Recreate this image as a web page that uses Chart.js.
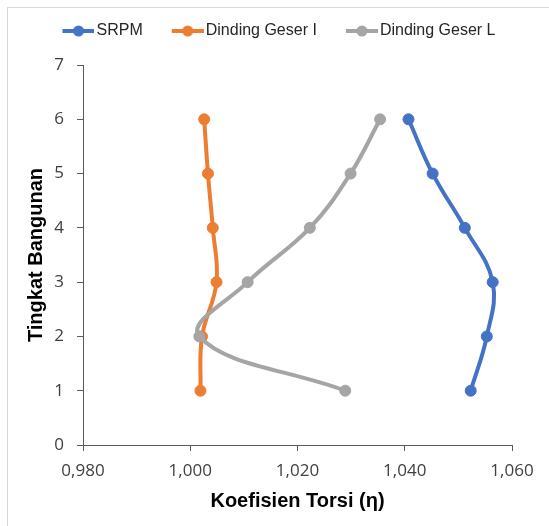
<!DOCTYPE html>
<html>
<head>
<meta charset="utf-8">
<script src="https://cdn.jsdelivr.net/npm/chart.js@4/dist/chart.umd.min.js"></script>
<style>
  html, body { margin: 0; padding: 0; background: #ffffff; }
  #wrap { width: 549px; height: 526px; }
</style>
</head>
<body>
<div id="wrap"><canvas id="c" width="549" height="526"></canvas></div>
<script>
// ---- data ----
const floors = [1, 2, 3, 4, 5, 6];
const srpm = [1.0523, 1.0553, 1.0564, 1.0512, 1.0452, 1.0407];
const dindingGeserI = [1.0019, 1.0022, 1.0049, 1.0042, 1.0033, 1.0026];
const dindingGeserL = [1.0289, 1.0017, 1.0107, 1.0223, 1.0299, 1.0354];
const seriesNames = ['SRPM', 'Dinding Geser I', 'Dinding Geser L'];
const xTickValues = [0.98, 1.00, 1.02, 1.04, 1.06];
const yTickValues = [0, 1, 2, 3, 4, 5, 6, 7];
const xTitle = 'Koefisien Torsi (η)';
const yTitle = 'Tingkat Bangunan';

// ---- styling ----
const colors = ['#4472C4', '#ED7D31', '#A5A5A5'];
const axisColor = '#595959';
const tickColor = '#404040';

function makeLegendIcon(color) {
  const W = 45, C = W + 12;
  const cv = document.createElement('canvas');
  cv.width = C; cv.height = 14;
  const g = cv.getContext('2d');
  g.strokeStyle = color; g.lineWidth = 4; g.lineCap = 'butt';
  g.beginPath(); g.moveTo(C - 32, 7); g.lineTo(C, 7); g.stroke();
  g.fillStyle = color;
  g.beginPath(); g.arc(C - 16, 7, 5.5, 0, Math.PI * 2); g.fill();
  return cv;
}
const icons = colors.map(makeLegendIcon);

function toPoints(xs) { return floors.map((f, i) => ({ x: xs[i], y: f })); }

const seriesValues = [srpm, dindingGeserI, dindingGeserL];
const datasets = seriesValues.map((vals, i) => ({
  label: seriesNames[i],
  data: toPoints(vals),
  showLine: true,
  borderColor: colors[i],
  backgroundColor: colors[i],
  borderWidth: 4,
  tension: 0.4,
  borderJoinStyle: 'round',
  pointRadius: 5.5,
  pointBorderWidth: 1,
  pointBorderColor: colors[i],
  pointBackgroundColor: colors[i],
  pointHoverRadius: 5.5,
  order: 2 - i
}));

const framePlugin = {
  id: 'frame',
  beforeDraw(chart) {
    const ctx = chart.ctx;
    ctx.save();
    ctx.fillStyle = '#ffffff';
    ctx.fillRect(0, 0, chart.width, chart.height);
    ctx.strokeStyle = '#d9d9d9';
    ctx.lineWidth = 1;
    ctx.strokeRect(7.5, 7.5, 700, 700);
    ctx.restore();
  }
};

new Chart(document.getElementById('c'), {
  type: 'scatter',
  data: { datasets },
  plugins: [framePlugin],
  options: {
    responsive: false,
    animation: false,
    events: [],
    layout: { padding: { top: 13, right: 10, bottom: 10, left: 0 } },
    plugins: {
      tooltip: { enabled: false },
      subtitle: {
        display: true,
        text: ' ',
        position: 'top',
        weight: 500,
        font: { size: 10, lineHeight: 1 },
        padding: { top: 3, bottom: 3 }
      },
      legend: {
        display: true,
        position: 'top',
        align: 'center',
        labels: {
          usePointStyle: true,
          pointStyleWidth: 45,
          padding: 10,
          color: '#262626',
          font: { family: '"Liberation Sans", Arial, sans-serif', size: 16 },
          sort: (a, b) => a.datasetIndex - b.datasetIndex,
          generateLabels(chart) {
            const items = Chart.defaults.plugins.legend.labels.generateLabels(chart);
            items.forEach(it => { it.pointStyle = icons[it.datasetIndex]; });
            return items;
          }
        }
      }
    },
    scales: {
      x: {
        type: 'linear',
        position: 'bottom',
        min: xTickValues[0],
        max: xTickValues[xTickValues.length - 1],
        afterBuildTicks(scale) { scale.ticks = xTickValues.map(v => ({ value: v })); },
        afterFit(scale) { scale.height = 71; scale.paddingRight = 37; scale.paddingLeft = 0; },
        ticks: {
          color: tickColor,
          padding: 10,
          maxRotation: 0,
          font: { family: '"Open Sans", sans-serif', size: 17 },
          callback: (v) => Number(v).toFixed(3).replace('.', ',')
        },
        grid: { drawOnChartArea: false, drawTicks: true, tickLength: 6, color: axisColor },
        border: { display: true, color: axisColor, width: 1 },
        title: {
          display: true,
          text: xTitle,
          color: '#000000',
          padding: { top: 0, bottom: 3 },
          font: { family: '"Liberation Sans", Arial, sans-serif', size: 20, weight: 'bold' }
        }
      },
      y: {
        type: 'linear',
        position: 'left',
        min: yTickValues[0],
        max: yTickValues[yTickValues.length - 1],
        afterBuildTicks(scale) { scale.ticks = yTickValues.map(v => ({ value: v })); },
        afterFit(scale) { scale.width = 83; },
        ticks: {
          color: tickColor,
          padding: 13,
          font: { family: '"Open Sans", sans-serif', size: 17 },
          callback: (v) => String(v)
        },
        grid: { drawOnChartArea: false, drawTicks: true, tickLength: 6, color: axisColor },
        border: { display: true, color: axisColor, width: 1 },
        title: {
          display: true,
          text: yTitle,
          color: '#000000',
          padding: { top: 24, bottom: 0 },
          font: { family: '"Liberation Sans", Arial, sans-serif', size: 20, weight: 'bold' }
        }
      }
    }
  }
});
</script>
</body>
</html>
